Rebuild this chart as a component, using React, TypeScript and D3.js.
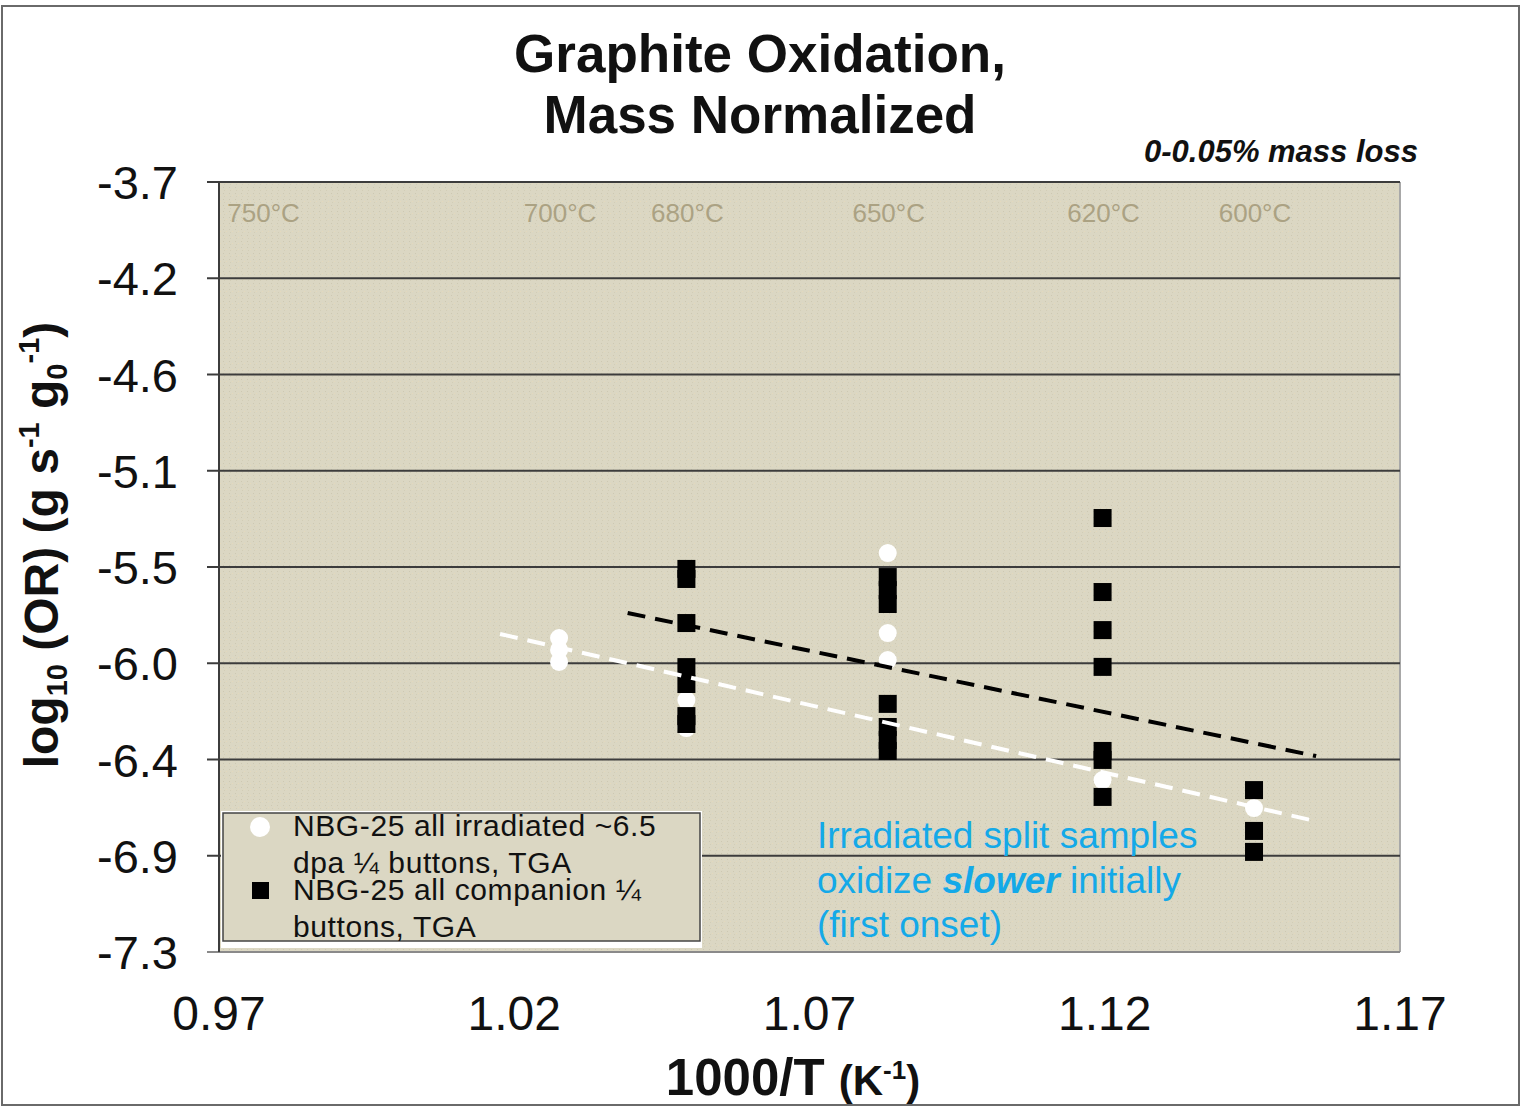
import React from "react";
import * as d3 from "d3";

// ---- data ----
const xTickValues = [0.97, 1.02, 1.07, 1.12, 1.17];
const xTickLabels = ["0.97", "1.02", "1.07", "1.12", "1.17"];
const yTickValues = [-3.7, -4.15, -4.6, -5.05, -5.5, -5.95, -6.4, -6.85, -7.3];
const yTickLabels = ["-3.7", "-4.2", "-4.6", "-5.1", "-5.5", "-6.0", "-6.4", "-6.9", "-7.3"];
const tempC = [750, 700, 680, 650, 620, 600];
const tempLabels = ["750°C", "700°C", "680°C", "650°C", "620°C", "600°C"];

// irradiated (white circles): temperature (°C) and log10(OR)
const irradiatedT = [700, 700, 700, 680, 680, 650, 650, 650, 620, 600];
const irradiatedY = [-5.832, -5.888, -5.944, -6.122, -6.253, -5.435, -5.809, -5.935, -6.496, -6.627];

// companion (black squares)
const companionT = [680, 680, 680, 680, 680, 680, 680, 650, 650, 650, 650, 650, 650, 650, 620, 620, 620, 620, 620, 620, 620, 600, 600, 600];
const companionY = [-5.509, -5.556, -5.762, -5.968, -6.047, -6.197, -6.234, -5.547, -5.608, -5.673, -6.14, -6.248, -6.309, -6.36, -5.271, -5.617, -5.795, -5.967, -6.36, -6.402, -6.575, -6.543, -6.734, -6.832];

// trend lines [1000/T, log10 OR]
const companionFit: [number, number][] = [[1.0392, -5.715], [1.1558, -6.384]];
const irradiatedFit: [number, number][] = [[1.0176, -5.813], [1.1549, -6.683]];

const invT = (c: number) => 1000 / (c + 273.15);

export default function App() {
  const W = 1522, H = 1108;
  const x = d3.scaleLinear().domain([0.97, 1.17]).range([219, 1400]);
  const y = d3.scaleLinear().domain([-7.3, -3.7]).range([952, 182]);
  const line = d3.line<[number, number]>().x(d => x(d[0])).y(d => y(d[1]));
  const font = "'Liberation Sans', Arial, sans-serif";
  const blue = "#14a9e8";

  return (
    <svg width={W} height={H} style={{ position: "absolute", left: 0, top: 0, background: "#fff" }} fontFamily={font}>
      <defs>
        <pattern id="tex" width="6" height="6" patternUnits="userSpaceOnUse">
          <rect width="6" height="6" fill="#dbd7c3" />
          <rect x="1" y="1" width="1" height="1" fill="#cdc8b2" />
          <rect x="4" y="3" width="1" height="1" fill="#e4d9bc" />
          <rect x="2" y="4" width="1" height="1" fill="#d2cdb6" />
        </pattern>
      </defs>
      {/* outer frame */}
      <rect x={2} y={6} width={1517} height={1099} fill="none" stroke="#6a6a6a" strokeWidth={2} />

      {/* title */}
      <text x={760} y={72} textAnchor="middle" fontSize={53} fontWeight="bold" fill="#111">Graphite Oxidation,</text>
      <text x={760} y={133} textAnchor="middle" fontSize={53} fontWeight="bold" fill="#111">Mass Normalized</text>
      <text x={1418} y={162} textAnchor="end" fontSize={31} fontWeight="bold" fontStyle="italic" fill="#111">0-0.05% mass loss</text>

      {/* plot area */}
      <rect x={x(0.97)} y={y(-3.7)} width={x(1.17) - x(0.97)} height={y(-7.3) - y(-3.7)} fill="url(#tex)" />
      <line x1={x(1.17)} x2={x(1.17)} y1={y(-3.7)} y2={y(-7.3)} stroke="#a8a8a8" strokeWidth={2} />
      {yTickValues.map((v, i) => (
        <g key={i}>
          <line x1={207} x2={x(1.17)} y1={y(v)} y2={y(v)}
            stroke={i === yTickValues.length - 1 ? "#8a8a8a" : "#3c3c3c"} strokeWidth={2} />
          <text x={178} y={y(v) + 17} textAnchor="end" fontSize={47} fill="#111">{yTickLabels[i]}</text>
        </g>
      ))}
      <line x1={x(0.97)} x2={x(0.97)} y1={y(-3.7)} y2={y(-7.3)} stroke="#3c3c3c" strokeWidth={2} />

      {/* temperature labels */}
      {tempC.map((t, i) => (
        <text key={t} x={x(invT(t)) + 1} y={222} textAnchor="middle" fontSize={26} fill="#aba283">{tempLabels[i]}</text>
      ))}

      {/* markers */}
      {irradiatedT.map((t, i) => (
        <circle key={"w" + i} cx={x(invT(t))} cy={y(irradiatedY[i])} r={9} fill="#fff" />
      ))}
      {companionT.map((t, i) => (
        <rect key={"b" + i} x={x(invT(t)) - 9} y={y(companionY[i]) - 9} width={18} height={18} fill="#000" />
      ))}

      {/* trend lines */}
      <path d={line(companionFit) || ""} fill="none" stroke="#000" strokeWidth={4} strokeDasharray="18 10" />
      <path d={line(irradiatedFit) || ""} fill="none" stroke="#fff" strokeWidth={4} strokeDasharray="18 10" />

      {/* x tick labels */}
      {xTickValues.map((v, i) => (
        <text key={i} x={x(v)} y={1030} textAnchor="middle" fontSize={48} fill="#111">{xTickLabels[i]}</text>
      ))}

      {/* axis titles */}
      <text x={793} y={1095} textAnchor="middle" fontWeight="bold" fill="#111">
        <tspan fontSize={51}>1000/T </tspan>
        <tspan fontSize={42}>(K</tspan>
        <tspan fontSize={26} dy={-16}>-1</tspan>
        <tspan fontSize={42} dy={16}>)</tspan>
      </text>
      <text transform="translate(58,545) rotate(-90)" textAnchor="middle" fontWeight="bold" fill="#111" fontSize={48}>
        <tspan>log</tspan>
        <tspan fontSize={29} dy={9}>10</tspan>
        <tspan dy={-9}> (OR) (g s</tspan>
        <tspan fontSize={29} dy={-19}>-1</tspan>
        <tspan dy={19}> g</tspan>
        <tspan fontSize={29} dy={9}>0</tspan>
        <tspan fontSize={29} dy={-28}>-1</tspan>
        <tspan dy={19}>)</tspan>
      </text>

      {/* legend */}
      <rect x={221} y={811} width={481} height={137} fill="#fff" />
      <rect x={223} y={813} width={477} height={128} fill="#dbd7c3" stroke="#444" strokeWidth={1.5} />
      <circle cx={260} cy={827} r={10} fill="#fff" />
      <rect x={252} y={882} width={17} height={17} fill="#000" />
      <g fontSize={30} fill="#111" letterSpacing={0.6}>
        <text x={293} y={836}>NBG-25 all irradiated ~6.5</text>
        <text x={293} y={873}>dpa ¼ buttons, TGA</text>
        <text x={293} y={900}>NBG-25 all companion ¼</text>
        <text x={293} y={937}>buttons, TGA</text>
      </g>

      {/* annotation */}
      <g fontSize={37} fill={blue}>
        <text x={817} y={848}>Irradiated split samples</text>
        <text x={817} y={893}>oxidize <tspan fontWeight="bold" fontStyle="italic">slower</tspan> initially</text>
        <text x={817} y={937}>(first onset)</text>
      </g>
    </svg>
  );
}
